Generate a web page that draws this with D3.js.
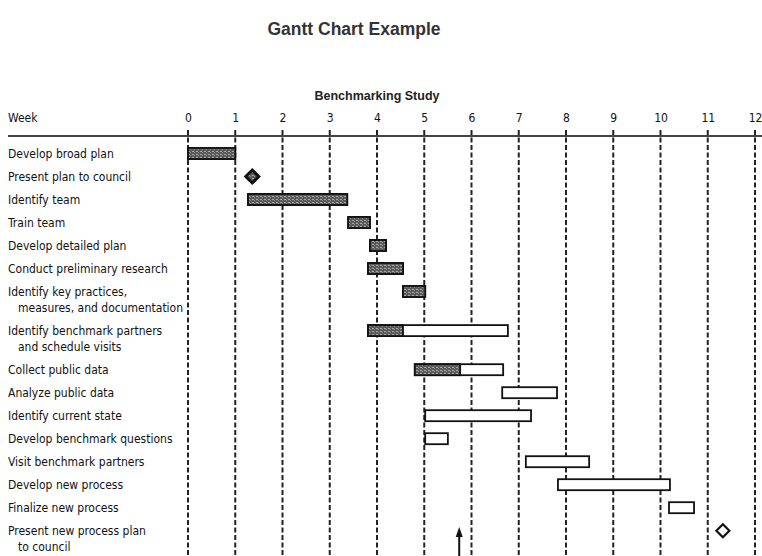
<!DOCTYPE html>
<html>
<head>
<meta charset="utf-8">
<script src="https://cdn.jsdelivr.net/npm/d3@7/dist/d3.min.js"></script>
<style>
  html, body { margin: 0; padding: 0; background: #fff; }
  svg { display: block; }
  .lbl { font-family: "DejaVu Sans Condensed", "DejaVu Sans", sans-serif; font-stretch: condensed; font-size: 12px; fill: #111; }
</style>
</head>
<body>
<script>
// Task names (each entry is one or two text lines)
const taskLabels = [
  ["Develop broad plan"],
  ["Present plan to council"],
  ["Identify team"],
  ["Train team"],
  ["Develop detailed plan"],
  ["Conduct preliminary research"],
  ["Identify key practices,", "measures, and documentation"],
  ["Identify benchmark partners", "and schedule visits"],
  ["Collect public data"],
  ["Analyze public data"],
  ["Identify current state"],
  ["Develop benchmark questions"],
  ["Visit benchmark partners"],
  ["Develop new process"],
  ["Finalize new process"],
  ["Present new process plan", "to council"]
];
// Start / end in weeks (milestones have start === end)
const taskStart = [0, 1.36, 1.27, 3.39, 3.85, 3.81, 4.55, 3.81, 4.80, 6.65, 5.02, 5.02, 7.15, 7.83, 10.18, 11.32];
const taskEnd   = [1, 1.36, 3.37, 3.85, 4.19, 4.55, 5.02, 6.77, 6.67, 7.81, 7.26, 5.50, 8.49, 10.20, 10.71, 11.32];
// Completed up to (week); null = nothing done yet
const taskDone  = [1, 1.36, 3.37, 3.85, 4.19, 4.55, 5.02, 4.55, 5.76, null, null, null, null, null, null, null];
const taskKind  = ["bar","milestone","bar","bar","bar","bar","bar","bar","bar","bar","bar","bar","bar","bar","bar","milestone"];
// Week ticks and status date
const weekTicks = [0,1,2,3,4,5,6,7,8,9,10,11,12];
const statusWeek = 5.74;

const W = 762, H = 556;
const svg = d3.select("body").append("svg").attr("width", W).attr("height", H);

// stippled fill for completed work
const defs = svg.append("defs");
const pat = defs.append("pattern").attr("id", "stipple")
  .attr("patternUnits", "userSpaceOnUse").attr("width", 4).attr("height", 3);
pat.append("rect").attr("width", 4).attr("height", 3).attr("fill", "#5a5a5a");
pat.append("rect").attr("x", 0).attr("y", 1).attr("width", 2).attr("height", 1).attr("fill", "#a8a8a8");
pat.append("rect").attr("x", 2).attr("y", 2).attr("width", 1).attr("height", 1).attr("fill", "#8a8a8a");

const x = d3.scaleLinear().domain([0, 12]).range([188, 755]);

// rows: each extra text line adds 0.7 of a row slot
const slots = [];
let acc = 0;
taskLabels.forEach(l => { slots.push(acc); acc += 1 + 0.7 * (l.length - 1); });
const y = d3.scaleLinear().domain([0, 1]).range([153.5, 176.5]);

// titles
svg.append("text").attr("x", 354).attr("y", 35).attr("text-anchor", "middle")
  .attr("font-family", "Liberation Sans, Arial, sans-serif").attr("font-weight", "bold")
  .attr("font-size", 17.5).attr("fill", "#333").text("Gantt Chart Example");
svg.append("text").attr("x", 377).attr("y", 100).attr("text-anchor", "middle")
  .attr("font-family", "Liberation Sans, Arial, sans-serif").attr("font-weight", "bold")
  .attr("font-size", 12.5).attr("fill", "#222").text("Benchmarking Study");

// header
svg.append("text").attr("class", "lbl").attr("x", 8).attr("y", 122).text("Week");
const axis = d3.axisTop(x).tickValues(weekTicks).tickSize(0).tickPadding(0).tickFormat(d3.format("d"));
const gAxis = svg.append("g").attr("transform", "translate(0,122)").call(axis);
gAxis.select(".domain").remove();
gAxis.selectAll("text").attr("class", "lbl").attr("dy", 0).attr("font-size", null).attr("font-family", null);
svg.append("line").attr("x1", 8).attr("x2", W).attr("y1", 136).attr("y2", 136)
  .attr("stroke", "#444").attr("stroke-width", 2);

// dashed week grid
svg.append("g").selectAll("line").data(weekTicks).join("line")
  .attr("x1", d => x(d)).attr("x2", d => x(d))
  .attr("y1", 130).attr("y2", H)
  .attr("stroke", "#222").attr("stroke-width", 2).attr("stroke-dasharray", "5,2.5");

// task labels
const lab = svg.append("g").selectAll("text").data(taskLabels).join("text")
  .attr("class", "lbl").attr("x", 8).attr("y", (d, i) => y(slots[i]) + 4.5);
lab.selectAll("tspan").data(d => d).join("tspan")
  .attr("x", (d, j) => j === 0 ? 8 : 18)
  .attr("dy", (d, j) => j === 0 ? 0 : 16)
  .text(d => d);

const idx = d3.range(taskLabels.length);
const barH = 11;

// planned bars (open)
svg.append("g").selectAll("rect").data(idx.filter(i => taskKind[i] === "bar")).join("rect")
  .attr("x", i => x(taskStart[i])).attr("y", i => y(slots[i]) - barH / 2)
  .attr("width", i => x(taskEnd[i]) - x(taskStart[i])).attr("height", barH)
  .attr("fill", "#fff").attr("stroke", "#111").attr("stroke-width", 1.8);
// completed portions
svg.append("g").selectAll("rect").data(idx.filter(i => taskKind[i] === "bar" && taskDone[i] != null)).join("rect")
  .attr("x", i => x(taskStart[i])).attr("y", i => y(slots[i]) - barH / 2)
  .attr("width", i => x(taskDone[i]) - x(taskStart[i])).attr("height", barH)
  .attr("fill", "url(#stipple)").attr("stroke", "#111").attr("stroke-width", 1.8);

// milestones
const dm = 6.5;
svg.append("g").selectAll("path").data(idx.filter(i => taskKind[i] === "milestone")).join("path")
  .attr("d", i => {
    const cx = x(taskStart[i]), cy = y(slots[i]);
    return `M${cx},${cy - dm}L${cx + dm},${cy}L${cx},${cy + dm}L${cx - dm},${cy}Z`;
  })
  .attr("fill", i => taskDone[i] != null ? "url(#stipple)" : "#fff")
  .attr("stroke", "#111").attr("stroke-width", i => taskDone[i] != null ? 3 : 2.2);

// status date arrow
const ax = x(statusWeek);
svg.append("line").attr("x1", ax).attr("x2", ax).attr("y1", 534).attr("y2", H)
  .attr("stroke", "#111").attr("stroke-width", 2);
svg.append("path").attr("d", `M${ax},527L${ax + 3.5},537L${ax - 3.5},537Z`).attr("fill", "#111");
</script>
</body>
</html>
